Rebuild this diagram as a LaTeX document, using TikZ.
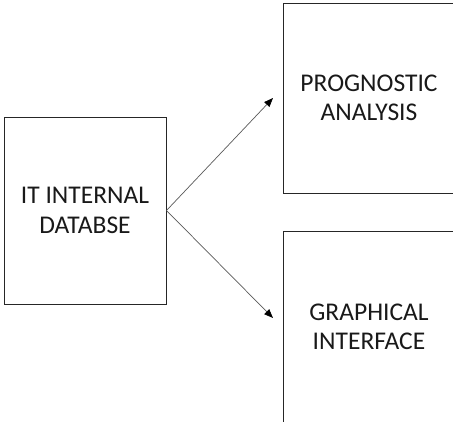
\documentclass[tikz,border=0pt]{standalone}
\usepackage{fontspec}
\setmainfont{Carlito}
\usetikzlibrary{arrows.meta}
\begin{document}
\begin{tikzpicture}[x=1pt,y=-1pt,
  block/.style={draw=black!85,line width=1pt,align=center,inner sep=0pt,
    text=black!90,font=\fontsize{25.5}{29.5}\selectfont},
  link/.style={draw=black!65,line width=0.7pt,
    -{Triangle[length=9pt,width=7pt,fill=black,color=black]}}]
\useasboundingbox (0,0) rectangle (453,421);
% source box on the left
\node[block,minimum width=162pt,minimum height=187pt] (db) at (85,210.5) {IT INTERNAL\\DATABSE};
% two target boxes on the right, running past the right edge
\node[block,minimum width=172pt,minimum height=190pt] (prog) at (369,98) {PROGNOSTIC\\ANALYSIS};
\node[block,minimum width=172pt,minimum height=192pt] (gui) at (369,327) {GRAPHICAL\\INTERFACE};
% arrow tips stop short of the targets
\coordinate (tipA) at (273,98);
\coordinate (tipB) at (273,318);
\draw[link] (db.east) -- (tipA);
\draw[link] (db.east) -- (tipB);
\end{tikzpicture}
\end{document}
